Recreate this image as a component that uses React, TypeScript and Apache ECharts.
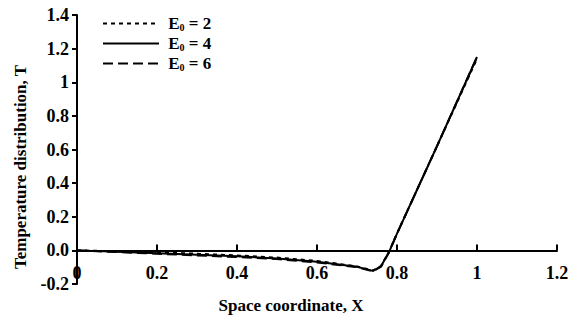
import React, { useEffect, useRef } from "react";
import * as echarts from "echarts";

const xValues = [0, 0.1, 0.2, 0.3, 0.4, 0.5, 0.6, 0.7, 0.74, 0.76, 0.78, 0.8, 0.9, 1.0];
const seriesE2 = [0, -0.005, -0.012, -0.02, -0.03, -0.043, -0.063, -0.095, -0.12, -0.093, -0.008, 0.1, 0.62, 1.14];
const seriesE4 = [0, -0.008, -0.017, -0.026, -0.035, -0.048, -0.068, -0.098, -0.122, -0.095, -0.01, 0.1, 0.62, 1.15];
const seriesE6 = [0, -0.01, -0.02, -0.03, -0.04, -0.052, -0.072, -0.1, -0.124, -0.097, -0.012, 0.1, 0.62, 1.15];
const legendValues = ["2", "4", "6"];
const seriesNames = ["E0 = 2", "E0 = 4", "E0 = 6"];
const xTitle = "Space coordinate, X";
const yTitle = "Temperature distribution, T";

const FONT = "'Liberation Serif', 'Times New Roman', serif";

export default function App() {
  const ref = useRef<HTMLDivElement>(null);
  useEffect(() => {
    document.body.style.margin = "0";
    if (!ref.current) return;
    const chart = echarts.init(ref.current, undefined, { renderer: "svg" });
    const mk = (vals: number[]) => xValues.map((x, i) => [x, vals[i]]);
    const lineTypes: any[] = [[4, 4], "solid", [10, 5]];
    const datas = [seriesE2, seriesE4, seriesE6];
    // grid: top 15, bottom 39 -> plot height 269 for range 1.6
    const plotH = 323 - 15 - 39;
    const zeroOffset = -(plotH * 0.2) / 1.6;
    chart.setOption({
      animation: false,
      backgroundColor: "#ffffff",
      textStyle: { fontFamily: FONT },
      grid: { left: 77, right: 17, top: 15, bottom: 39, containLabel: false },
      legend: {
        orient: "vertical",
        left: 97,
        top: 10,
        itemWidth: 56,
        itemHeight: 14,
        itemGap: 3,
        data: seriesNames,
        itemStyle: { opacity: 0 },
        formatter: (name: string) => {
          const idx = seriesNames.indexOf(name);
          return `{e| E}{s|0}{e| = ${legendValues[idx]}}`;
        },
        textStyle: {
          color: "#000",
          fontFamily: FONT,
          fontWeight: "bold",
          fontSize: 17,
          rich: {
            e: { fontFamily: FONT, fontWeight: "bold", fontSize: 17, color: "#000" },
            s: { fontFamily: FONT, fontWeight: "bold", fontSize: 10, color: "#000", padding: [7, 0, 0, 0] },
          },
        },
      },
      xAxis: {
        type: "value",
        min: 0,
        max: 1.2,
        interval: 0.2,
        offset: zeroOffset,
        axisLine: { onZero: false, lineStyle: { color: "#000", width: 2 } },
        axisTick: { inside: true, length: 6, lineStyle: { color: "#000", width: 2 } },
        splitLine: { show: false },
        axisLabel: {
          color: "#000",
          fontFamily: FONT,
          fontWeight: "bold",
          fontSize: 18,
          margin: 14,
          formatter: (v: number) => String(+v.toFixed(1)),
        },
      },
      yAxis: {
        type: "value",
        min: -0.2,
        max: 1.4,
        interval: 0.2,
        axisLine: { show: true, onZero: false, lineStyle: { color: "#000", width: 2 } },
        axisTick: { show: true, inside: false, length: 5, lineStyle: { color: "#000", width: 2 } },
        splitLine: { show: false },
        axisLabel: {
          color: "#000",
          fontFamily: FONT,
          fontWeight: "bold",
          fontSize: 18,
          margin: 8,
          formatter: (v: number) => (Math.abs(v) < 1e-9 ? "0.0" : String(+v.toFixed(1))),
        },
      },
      graphic: [
        {
          type: "text",
          x: 291,
          y: 305,
          style: {
            text: xTitle,
            fontFamily: FONT,
            fontWeight: "bold",
            fontSize: 17,
            fill: "#000",
            align: "center",
            verticalAlign: "middle",
          },
        },
        {
          type: "text",
          x: 20,
          y: 167,
          rotation: Math.PI / 2,
          style: {
            text: yTitle,
            fontFamily: FONT,
            fontWeight: "bold",
            fontSize: 17,
            fill: "#000",
            align: "center",
            verticalAlign: "middle",
          },
        },
      ],
      series: datas.map((d, i) => ({
        name: seriesNames[i],
        type: "line",
        data: mk(d),
        showSymbol: false,
        symbol: "none",
        smooth: false,
        lineStyle: { color: "#000", width: 2, type: lineTypes[i] },
        itemStyle: { color: "#000" },
      })),
    });
    return () => chart.dispose();
  }, []);
  return <div ref={ref} style={{ width: 574, height: 323, position: "fixed", left: 0, top: 0 }} />;
}
